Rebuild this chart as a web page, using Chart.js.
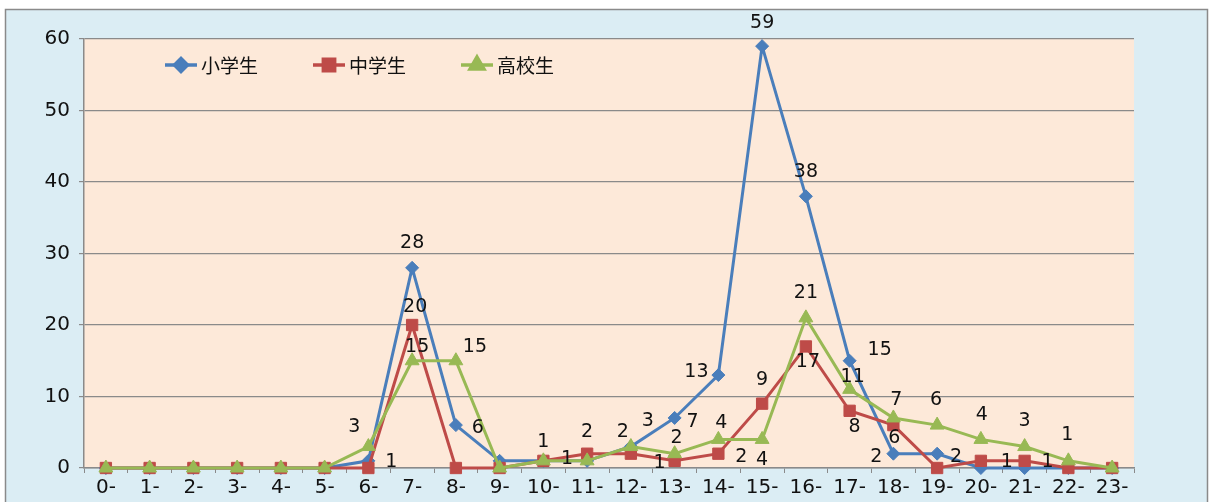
<!DOCTYPE html>
<html>
<head>
<meta charset="utf-8">
<script src="https://cdn.jsdelivr.net/npm/chart.js@4"></script>
<style>
  html, body { margin: 0; padding: 0; background: #ffffff; }
  #wrap { width: 1210px; height: 502px; }
</style>
</head>
<body>
<div id="wrap"><canvas id="chart" width="1210" height="502"></canvas></div>
<script>
// hours (x axis)
const hours = ['0-','1-','2-','3-','4-','5-','6-','7-','8-','9-','10-','11-','12-','13-','14-','15-','16-','17-','18-','19-','20-','21-','22-','23-'];

const seriesNames = ['小学生', '中学生', '高校生'];
const elementary = [0,0,0,0,0,0,1,28,6,1,1,1,3,7,13,59,38,15,2,2,0,0,0,0];
const juniorHigh = [0,0,0,0,0,0,0,20,0,0,1,2,2,1,2,9,17,8,6,0,1,1,0,0];
const highSchool = [0,0,0,0,0,0,3,15,15,0,1,1,3,2,4,4,21,11,7,6,4,3,1,0];

const yTicks = [0, 10, 20, 30, 40, 50, 60];

// where each value label sits relative to its point: [dataset, index, dx, dy]
const labelSpots = [
  [0, 6, 23, 1], [0, 7, 0, -25], [0, 8, 22, 3], [0, 13, 18, 4], [0, 14, -22, -3],
  [0, 15, 0, -23], [0, 16, 0, -24], [0, 17, 30, -11], [0, 18, -17, 3], [0, 19, 19, 3],
  [1, 7, 3, -18], [1, 10, 0, -19], [1, 11, 0, -22], [1, 12, -8, -22], [1, 13, -15, 2],
  [1, 14, 23, 3], [1, 15, 0, -24], [1, 16, 2, 16], [1, 17, 5, 16], [1, 18, 1, 13],
  [1, 20, 26, 1], [1, 21, 23, 1],
  [2, 6, -14, -19], [2, 7, 5, -14], [2, 8, 19, -14], [2, 11, -20, -2], [2, 12, 17, -25],
  [2, 13, 2, -16], [2, 14, 3, -16], [2, 15, 0, 21], [2, 16, 0, -25], [2, 17, 3, -12],
  [2, 18, 3, -18], [2, 19, -1, -25], [2, 20, 1, -24], [2, 21, 0, -25], [2, 22, -1, -26]
];

const colors = ['#4a7ebb', '#be4b48', '#98b954'];
const pointStyles = ['rectRot', 'rect', 'triangle'];
const pointSizes = [6.5, 8, 8];
const textFont = '"DejaVu Sans", "Noto Sans CJK JP", sans-serif';

const frame = {
  id: 'frame',
  beforeDraw(chart) {
    const c = chart.ctx;
    const a = chart.chartArea;
    c.save();
    c.fillStyle = '#ffffff';
    c.fillRect(0, 0, chart.width, chart.height);
    c.fillStyle = '#dbedf4';
    c.fillRect(5, 9, 1203, 500);
    c.strokeStyle = '#8a8a8a';
    c.lineWidth = 1.5;
    c.strokeRect(5.5, 9.5, 1202, 500);
    c.fillStyle = '#fde9d9';
    c.fillRect(a.left, a.top, a.right - a.left, a.bottom - a.top);
    c.restore();
  }
};

const valueLabels = {
  id: 'valueLabels',
  afterDatasetsDraw(chart) {
    const c = chart.ctx;
    c.save();
    c.font = '19px ' + textFont;
    c.fillStyle = '#111111';
    c.textAlign = 'center';
    c.textBaseline = 'middle';
    labelSpots.forEach(([d, i, dx, dy]) => {
      const pt = chart.getDatasetMeta(d).data[i];
      const v = chart.data.datasets[d].data[i];
      c.fillText(String(v), pt.x + dx, pt.y + dy);
    });
    c.restore();
  }
};

// legend drawn inside the plot area, line + marker like the original
const insideLegend = {
  id: 'insideLegend',
  afterDraw(chart) {
    const c = chart.ctx;
    const starts = [165, 313, 461];
    const y = 65;
    c.save();
    chart.data.datasets.forEach((ds, k) => {
      const x0 = starts[k];
      c.strokeStyle = ds.borderColor;
      c.lineWidth = 3.5;
      c.beginPath();
      c.moveTo(x0, y);
      c.lineTo(x0 + 32, y);
      c.stroke();
      Chart.helpers.drawPoint(c, {
        pointStyle: ds.pointStyle, radius: ds.pointRadius, rotation: 0,
        borderWidth: 1
      }, x0 + 16, y);
      c.fillStyle = ds.borderColor;
      c.fill();
      c.fillStyle = '#111111';
      c.font = '19px "Noto Sans CJK JP", sans-serif';
      c.textAlign = 'left';
      c.textBaseline = 'middle';
      c.fillText(ds.label, x0 + 36, y + 1);
    });
    c.restore();
  }
};

const allSeries = [elementary, juniorHigh, highSchool];

new Chart(document.getElementById('chart').getContext('2d'), {
  type: 'line',
  data: {
    labels: hours,
    datasets: allSeries.map((vals, k) => ({
      label: seriesNames[k],
      data: vals,
      order: 3 - k,   // later series drawn on top, as in the original
      borderColor: colors[k],
      backgroundColor: colors[k],
      borderWidth: 3,
      pointStyle: pointStyles[k],
      pointRadius: pointSizes[k],
      pointBackgroundColor: colors[k],
      pointBorderColor: colors[k],
      pointBorderWidth: 1,
      tension: 0,
      fill: false,
      clip: false
    }))
  },
  options: {
    responsive: false,
    animation: false,
    events: [],
    layout: { padding: { left: 5, top: 39, right: 76, bottom: 0 } },
    plugins: {
      legend: { display: false },
      tooltip: { enabled: false }
    },
    scales: {
      x: {
        offset: true,
        grid: {
          offset: true,
          drawOnChartArea: false,
          drawTicks: true,
          tickLength: 5,
          color: '#8a8a8a'
        },
        border: { color: '#8a8a8a', width: 1.5 },
        ticks: {
          color: '#111111',
          font: { size: 20, family: textFont },
          padding: 3,
          maxRotation: 0,
          autoSkip: false
        },
        afterFit(scale) { scale.height = 34; }
      },
      y: {
        min: 0,
        max: 60,
        afterBuildTicks(scale) { scale.ticks = yTicks.map(v => ({ value: v })); },
        grid: {
          color: '#8a8a8a',
          lineWidth: 1.2,
          tickLength: 5
        },
        border: { color: '#8a8a8a', width: 1.5 },
        ticks: {
          color: '#111111',
          font: { size: 20, family: textFont },
          padding: 9
        },
        afterFit(scale) { scale.width = 79; }
      }
    }
  },
  plugins: [frame, valueLabels, insideLegend]
});
</script>
</body>
</html>
